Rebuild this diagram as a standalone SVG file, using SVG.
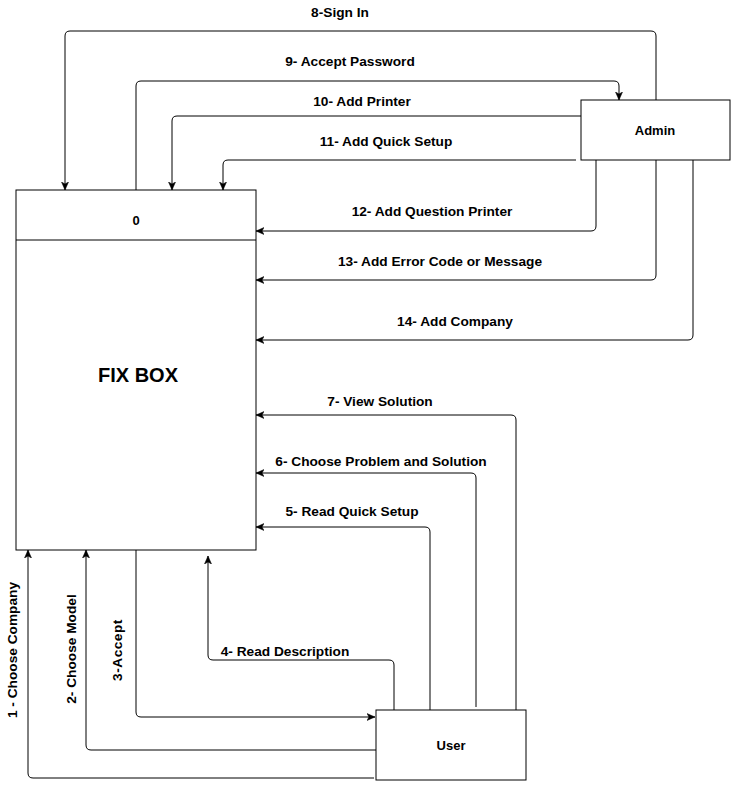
<svg xmlns="http://www.w3.org/2000/svg" width="731" height="796" viewBox="0 0 731 796">
<style>
.box{fill:#fff;stroke:#000;stroke-width:1}
.c{fill:none;stroke:#000;stroke-width:1}
text{font-family:"Liberation Sans",Arial,sans-serif;font-weight:bold;font-size:13.7px;fill:#000}
.m{text-anchor:middle}
.n{font-size:13px}
</style>
<defs>
<marker id="a" markerUnits="userSpaceOnUse" markerWidth="9" markerHeight="9" viewBox="0 0 9 9" refX="8" refY="4.5" orient="auto">
<path d="M0,1 L8,4.5 L0,8 L2,4.5 Z" fill="#000" stroke="#000" stroke-width="0.5"/>
</marker>
</defs>
<rect width="731" height="796" fill="#fff"/>
<g id="connectors">
<path class="c" marker-end="url(#a)" d="M656,100 V36 Q656,31 651,31 H70 Q65,31 65,36 V190"/>
<path class="c" marker-end="url(#a)" d="M136,190 V86 Q136,81 141,81 H614 Q619,81 619,86 V100"/>
<path class="c" marker-end="url(#a)" d="M581,116 H177 Q172,116 172,121 V190"/>
<path class="c" marker-end="url(#a)" d="M576,160 H228 Q223,160 223,165 V190"/>
<path class="c" marker-end="url(#a)" d="M596,160 V226 Q596,231 591,231 H256"/>
<path class="c" marker-end="url(#a)" d="M656,160 V275 Q656,280 651,280 H256"/>
<path class="c" marker-end="url(#a)" d="M693,160 V335 Q693,340 688,340 H256"/>
<path class="c" marker-end="url(#a)" d="M516,710 V420 Q516,415 511,415 H256"/>
<path class="c" marker-end="url(#a)" d="M476,707 V478 Q476,473 471,473 H256"/>
<path class="c" marker-end="url(#a)" d="M430,710 V532 Q430,527 425,527 H256"/>
<path class="c" marker-end="url(#a)" d="M394,710 V665 Q394,660 389,660 H213 Q208,660 208,655 V556"/>
<path class="c" marker-end="url(#a)" d="M136,550 V712 Q136,717 141,717 H375"/>
<path class="c" marker-end="url(#a)" d="M376,750 H91 Q86,750 86,745 V550"/>
<path class="c" marker-end="url(#a)" d="M374,778 H33 Q28,778 28,773 V550"/>
<text class="m" x="340" y="17">8-Sign In</text>
<text class="m" x="350" y="66">9- Accept Password</text>
<text class="m" x="362" y="106">10- Add Printer</text>
<text class="m" x="386" y="146">11- Add Quick Setup</text>
<text class="m" x="432" y="216">12- Add Question Printer</text>
<text class="m" x="440" y="266">13- Add Error Code or Message</text>
<text class="m" x="455" y="326">14- Add Company</text>
<text class="m" x="380" y="406">7- View Solution</text>
<text class="m" x="381" y="466">6- Choose Problem and Solution</text>
<text class="m" x="352" y="516">5- Read Quick Setup</text>
<text class="m" x="285" y="656">4- Read Description</text>
<text class="m" transform="translate(17,650) rotate(-90)">1 - Choose Company</text>
<text class="m" transform="translate(76,649) rotate(-90)">2- Choose Model</text>
<text class="m" transform="translate(122,650) rotate(-90)" letter-spacing="0.5">3-Accept</text>
</g>
<g id="fixbox">
<rect class="box" x="16" y="190" width="240" height="360"/>
<line class="c" x1="16" y1="240" x2="256" y2="240"/>
<text class="m n" x="136" y="225">0</text>
<text class="m" x="138" y="382" style="font-size:20px">FIX BOX</text>
</g>
<g id="admin">
<rect class="box" x="581" y="100" width="149" height="60"/>
<text class="m n" x="655" y="135">Admin</text>
</g>
<g id="user">
<rect class="box" x="376" y="710" width="150" height="70"/>
<text class="m n" x="451" y="750">User</text>
</g>
</svg>
